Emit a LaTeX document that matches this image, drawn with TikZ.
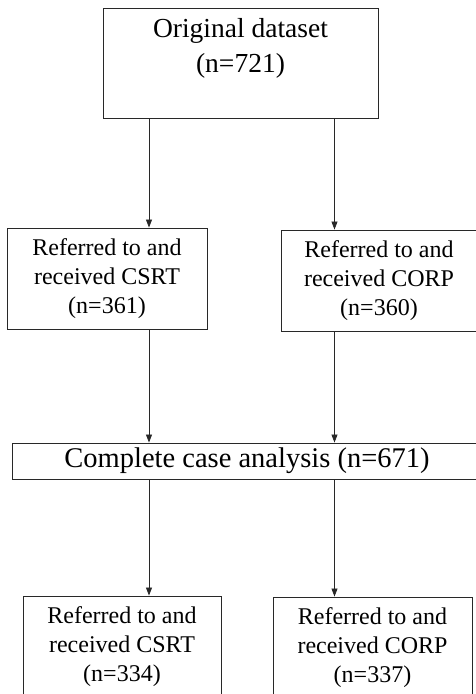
\documentclass[tikz,border=0pt]{standalone}
\usepackage{fontspec}
\setmainfont{Liberation Serif}
\usepackage{tikz}
\usetikzlibrary{arrows.meta, positioning, calc}
\definecolor{boxline}{RGB}{40,40,40}
\tikzset{
  box/.style={rectangle, draw=boxline, line width=0.9pt, align=center, inner sep=0pt},
  armbox/.style={box, minimum width=199pt, minimum height=101pt,
    font=\fontsize{24}{29}\selectfont},
  arrow/.style={-{Triangle[width=6pt,length=8pt]}, line width=0.8pt, color=boxline}
}
\begin{document}
\begin{tikzpicture}[x=1pt,y=1pt]
  \useasboundingbox (0,0) rectangle (475,-694);
  \coordinate (lcol) at (149,0);
  \coordinate (rcol) at (334.5,0);
  \node[box, minimum width=275pt, minimum height=110pt,
    font=\fontsize{27.5}{35}\selectfont] (orig) at (240.5,-63) {Original dataset\\(n=721)\\\mbox{}};
  \node[armbox, minimum width=200pt] (csrtA) at (107,-278.5) {Referred to and\\received CSRT\\(n=361)};
  \node[armbox, minimum width=196pt] (corpA) at (379,-280.5) {Referred to and\\received CORP\\(n=360)};
  \node[box, minimum width=470pt, minimum height=36pt,
    font=\fontsize{28.5}{34}\selectfont] (cca) at (247,-461) {Complete case analysis (n=671)};
  \node[armbox, minimum width=198pt] (csrtB) at (122,-646.5) {Referred to and\\received CSRT\\(n=334)};
  \node[armbox] (corpB) at (372.5,-647.5) {Referred to and\\received CORP\\(n=337)};
  \foreach \a/\b/\c in {orig/csrtA/lcol, orig/corpA/rcol, csrtA/cca/lcol, corpA/cca/rcol, cca/csrtB/lcol, cca/corpB/rcol}
    \draw[arrow] (\a.south -| \c) -- (\b.north -| \c);
\end{tikzpicture}
\end{document}
